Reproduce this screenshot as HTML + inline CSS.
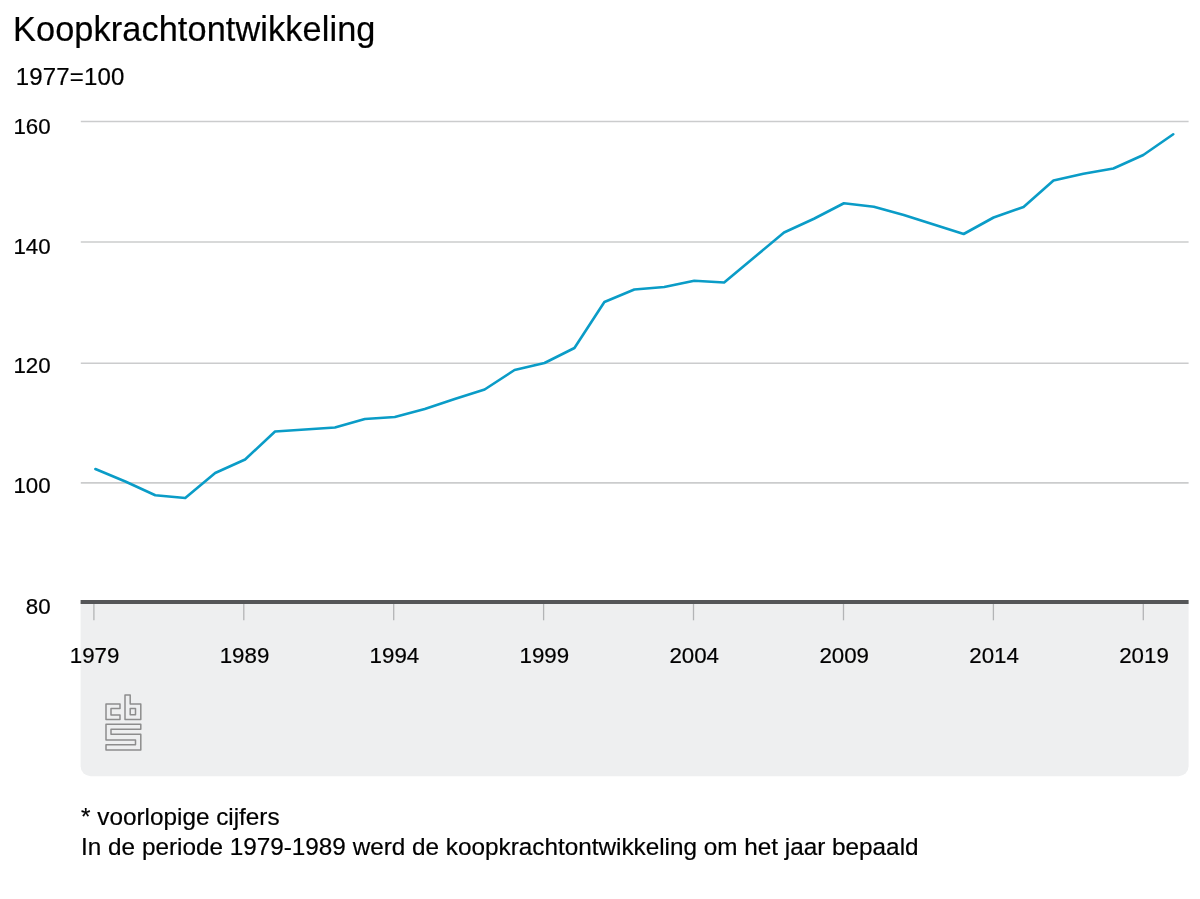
<!DOCTYPE html>
<html lang="nl">
<head>
<meta charset="utf-8">
<title>Koopkrachtontwikkeling</title>
<style>
html,body{margin:0;padding:0;background:#fff}
body{width:1200px;height:899px;overflow:hidden;position:relative;font-family:"Liberation Sans",Arial,Helvetica,sans-serif;color:#000}
svg{position:absolute;left:0;top:0;display:block}
text{font-family:"Liberation Sans",Arial,Helvetica,sans-serif;fill:#000;stroke:#000;stroke-width:0.2px}
.title{font-size:34.3px;letter-spacing:0.1px}
.sub{font-size:24px;letter-spacing:0.17px}
.ax{font-size:22.3px}
.note{font-size:24.3px}
</style>
</head>
<body>
<svg width="1200" height="899" viewBox="0 0 1200 899">
<path d="M80.6 602H1188.6V766.3a10 10 0 0 1 -10 10H90.6a10 10 0 0 1 -10 -10Z" fill="#eeeff0"/>
<path d="M80.8 121.55H1188.6" stroke="#cbcccd" stroke-width="1.6"/>
<path d="M80.8 242H1188.6" stroke="#cbcccd" stroke-width="1.6"/>
<path d="M80.8 363.3H1188.6" stroke="#cbcccd" stroke-width="1.6"/>
<path d="M80.8 482.9H1188.6" stroke="#cbcccd" stroke-width="1.6"/>
<path d="M80.6 602H1188.6" stroke="#555658" stroke-width="4"/>
<path d="M93.9 604V620.3" stroke="#b3b4b6" stroke-width="1.3"/>
<path d="M243.8 604V620.3" stroke="#b3b4b6" stroke-width="1.3"/>
<path d="M393.7 604V620.3" stroke="#b3b4b6" stroke-width="1.3"/>
<path d="M543.6 604V620.3" stroke="#b3b4b6" stroke-width="1.3"/>
<path d="M693.5 604V620.3" stroke="#b3b4b6" stroke-width="1.3"/>
<path d="M843.5 604V620.3" stroke="#b3b4b6" stroke-width="1.3"/>
<path d="M993.4 604V620.3" stroke="#b3b4b6" stroke-width="1.3"/>
<path d="M1143.3 604V620.3" stroke="#b3b4b6" stroke-width="1.3"/>
<polyline points="95.40,469 125.34,481.5 155.28,495.2 185.22,498 215.16,473 245.10,459.5 275.04,431.5 304.98,429.5 334.92,427.5 364.86,419 394.80,417 424.74,409 454.68,399 484.62,389.5 514.56,370 544.50,363 574.44,348 604.38,302 634.32,289.5 664.26,287 694.20,280.75 724.14,282.5 754.08,257.5 784.02,232.5 813.96,218.75 843.90,203.25 873.84,206.75 903.78,215 933.72,224.5 963.66,234 993.60,217.5 1023.54,206.9 1053.48,180.5 1083.42,173.75 1113.36,168.5 1143.30,155 1173.24,134.25" fill="none" stroke="#0a9cc7" stroke-width="2.6" stroke-linejoin="round" stroke-linecap="round"/>
<g fill="none" stroke="#8d8d8d" stroke-width="1.5" stroke-linejoin="round">
<path d="M106 704H120V708.5H111V715H120V719.5H106Z"/>
<path d="M125 695H130.2V704H140.8V719.5H125Z"/>
<path d="M130.2 708.5H135.5V714.8H130.2Z"/>
<path d="M106 724.3H140.8V729.3H111V734.3H140.8V750H106V744.8H135.5V740H106Z"/>
</g>
<text x="13" y="40.5" class="title">Koopkrachtontwikkeling</text>
<text x="15.7" y="85" class="sub">1977=100</text>
<text x="50.6" y="134" class="ax" text-anchor="end">160</text>
<text x="50.6" y="253.8" class="ax" text-anchor="end">140</text>
<text x="50.6" y="373.2" class="ax" text-anchor="end">120</text>
<text x="50.6" y="492.9" class="ax" text-anchor="end">100</text>
<text x="50.6" y="614.4" class="ax" text-anchor="end">80</text>
<text x="94.6" y="663.2" class="ax" text-anchor="middle">1979</text>
<text x="244.5" y="663.2" class="ax" text-anchor="middle">1989</text>
<text x="394.4" y="663.2" class="ax" text-anchor="middle">1994</text>
<text x="544.3" y="663.2" class="ax" text-anchor="middle">1999</text>
<text x="694.2" y="663.2" class="ax" text-anchor="middle">2004</text>
<text x="844.2" y="663.2" class="ax" text-anchor="middle">2009</text>
<text x="994.1" y="663.2" class="ax" text-anchor="middle">2014</text>
<text x="1144" y="663.2" class="ax" text-anchor="middle">2019</text>
<text x="81.1" y="825" class="note">* voorlopige cijfers</text>
<text x="81.1" y="855.3" class="note">In de periode 1979-1989 werd de koopkrachtontwikkeling om het jaar bepaald</text>
</svg>
</body>
</html>
